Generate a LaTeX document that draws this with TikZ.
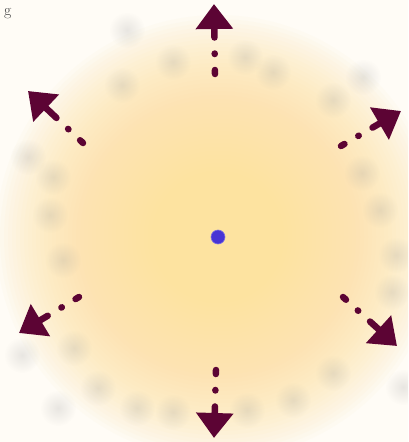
\documentclass[tikz,border=0pt]{standalone}
\usetikzlibrary{arrows.meta,fadings}
\definecolor{bgc}{RGB}{255,252,246}
\definecolor{glowc}{RGB}{253,227,160}
\definecolor{maroon}{RGB}{92,4,52}
\definecolor{dotblue}{RGB}{72,52,212}
\tikzfading[name=blobfade, inner color=transparent!0, outer color=transparent!100]
\tikzset{
  ray/.style={draw=maroon, line width=6.5pt, line cap=round,
    dash pattern=on 4pt off 16pt on 0.5pt off 16pt on 80pt,
    -{Triangle[length=25pt,width=36pt]}},
  blob/.style={fill=black!40, opacity=0.22, path fading=blobfade},
  glowring/.style={fill=glowc, opacity=0.055},
  hub/.style={circle, fill=dotblue, draw=dotblue!70!white, line width=0.6pt, inner sep=0pt, minimum size=14pt}
}
\begin{document}
\begin{tikzpicture}[x=1pt,y=-1pt]
\useasboundingbox (0,0) rectangle (408,442);
\clip (0,0) rectangle (408,442);
\fill[bgc] (0,0) rectangle (408,442);
% soft glow built from stacked translucent discs
\foreach \r in {222,218,...,50}
  \fill[glowring] (218,237) circle (\r);
% faint grey blobs
\foreach \p in {(127,30),(173,62),(122,85),(245,57),(273,72),(333,100),(363,77),
  (28,157),(53,177),(50,215),(63,260),(362,173),(380,210),(396,255),(392,292),
  (22,355),(74,348),(98,388),(58,408),(137,408),(173,412),(247,410),(293,400),
  (333,373),(403,387)}
  \fill[blob] \p circle (18);
% text fragment
\node[anchor=base west, inner sep=0pt, text=black!75, font=\fontsize{16}{16}\selectfont] (frag) at (4,15) {g};
% centre
\node[hub] (c) at (218,237) {};
% arrow ends
\coordinate (t1) at (215,74);  \coordinate (h1) at (214,4);
\coordinate (t2) at (83,143);  \coordinate (h2) at (28,91);
\coordinate (t3) at (341,146); \coordinate (h3) at (401,111);
\coordinate (t4) at (79,297);  \coordinate (h4) at (19,333);
\coordinate (t5) at (216,370); \coordinate (h5) at (214,438);
\coordinate (t6) at (343,297); \coordinate (h6) at (397,346);
\foreach \i in {1,...,6} \draw[ray] (t\i) -- (h\i);
\end{tikzpicture}
\end{document}
